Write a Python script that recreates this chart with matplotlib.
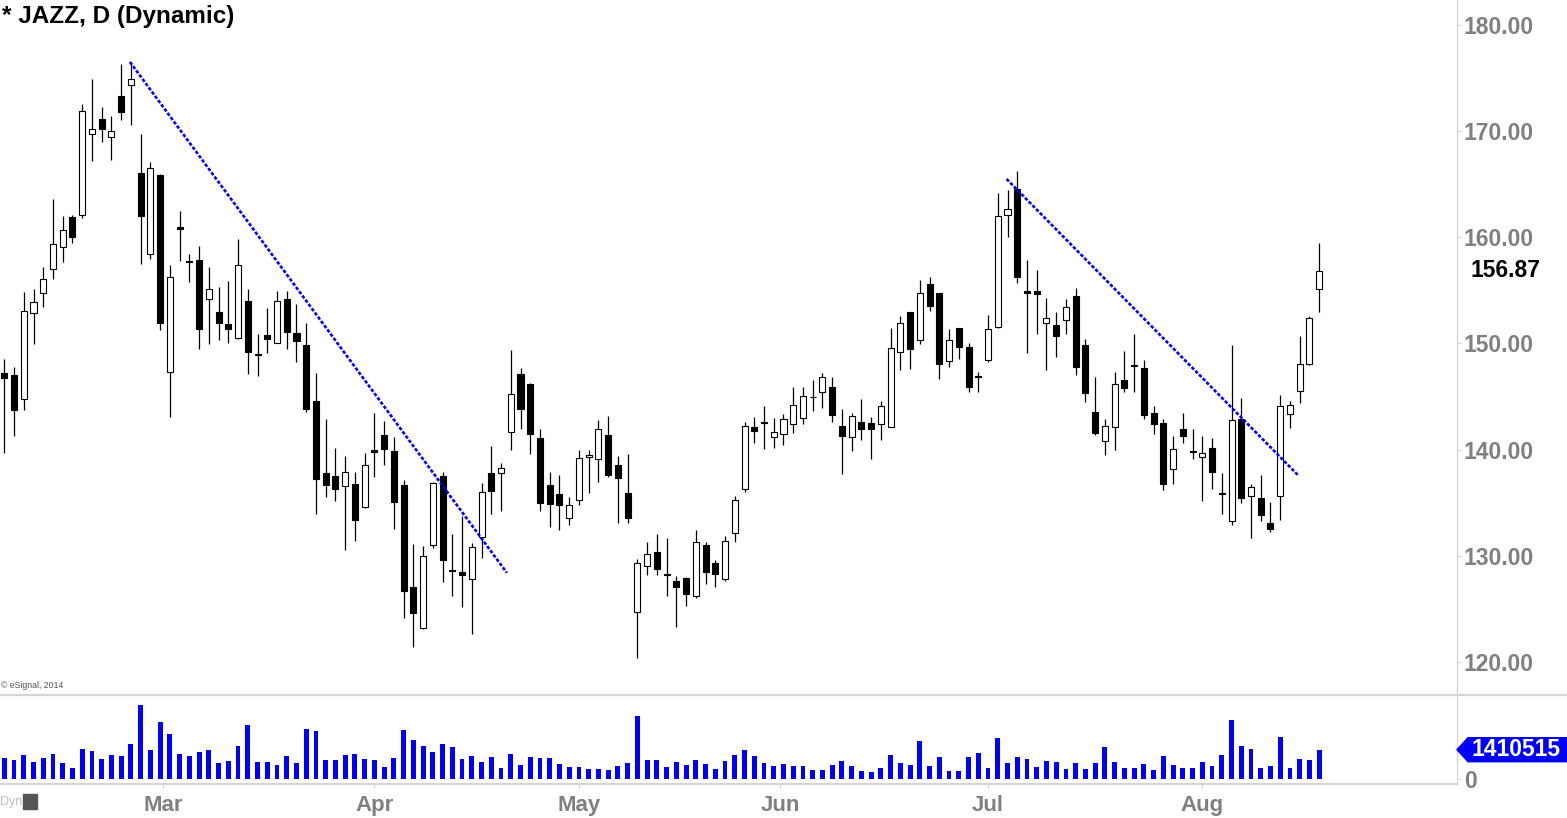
import numpy as np
import pandas as pd
import matplotlib
matplotlib.use("Agg")
import matplotlib.pyplot as plt
from matplotlib import transforms
from matplotlib.patches import Polygon, Rectangle

plt.rcParams['font.family'] = ['Liberation Sans', 'DejaVu Sans']

# Trading days (JAZZ, daily) 2014-02-05 .. 2014-08-19
holidays = ['2014-02-17', '2014-04-18', '2014-05-26', '2014-07-04']
dates = pd.bdate_range('2014-02-05', '2014-08-19', freq='C', holidays=holidays)

opens = [147.23, 147.04, 144.76, 152.85, 154.74, 157.00, 159.07, 161.89, 162.08, 169.71,
         171.12, 169.43, 173.29, 174.32, 166.04, 158.41, 165.85, 147.30, 160.95, 157.75,
         157.87, 154.17, 152.95, 151.82, 150.50, 154.00, 149.05, 150.78, 150.08, 154.17,
         150.97, 149.84, 144.57, 137.79, 137.50, 136.53, 136.75, 134.59, 140.00, 141.37,
         139.86, 136.66, 127.05, 123.19, 131.00, 137.50, 128.65, 128.47, 127.80, 131.76,
         137.79, 137.79, 141.65, 147.14, 146.20, 141.10, 136.69, 135.84, 133.55, 135.24,
         139.29, 139.10, 141.39, 138.57, 135.90, 124.70, 129.03, 130.35, 128.30, 127.62,
         127.90, 126.17, 131.04, 129.31, 127.77, 132.14, 136.28, 142.12, 142.60, 141.18,
         141.46, 142.40, 142.97, 145.00, 145.41, 145.89, 142.21, 141.18, 142.59, 142.50,
         142.40, 142.18, 149.18, 152.95, 150.31, 155.58, 154.74, 148.33, 151.44, 149.65,
         146.95, 148.43, 151.54, 162.08, 164.53, 154.90, 154.93, 151.91, 151.75, 152.19,
         154.48, 149.87, 143.56, 140.80, 142.12, 146.54, 147.95, 147.67, 143.44, 142.50,
         138.16, 141.93, 139.90, 139.29, 140.14, 135.90, 133.27, 142.90, 135.68, 135.46,
         133.08, 135.62, 143.34, 145.51, 148.05, 155.11]
highs = [148.55, 147.80, 154.83, 155.14, 157.18, 163.60, 162.00, 162.10, 172.60, 174.90,
         172.25, 171.43, 176.33, 176.40, 169.74, 167.10, 165.97, 157.40, 162.49, 158.44,
         159.19, 157.18, 155.30, 155.90, 159.82, 155.11, 150.90, 153.32, 154.93, 154.93,
         153.73, 151.91, 147.20, 142.87, 140.14, 139.39, 137.88, 139.70, 143.47, 142.71,
         141.18, 137.16, 131.13, 130.91, 136.94, 137.88, 132.09, 133.77, 131.22, 136.85,
         140.36, 138.79, 149.40, 147.70, 146.32, 141.96, 137.90, 137.63, 135.56, 139.98,
         139.98, 142.80, 143.18, 139.42, 139.60, 129.69, 131.32, 132.05, 131.70, 128.12,
         128.00, 132.45, 131.29, 129.62, 131.88, 135.65, 142.59, 143.09, 144.12, 142.96,
         143.37, 145.91, 145.91, 146.57, 147.20, 146.83, 143.84, 143.44, 144.78, 143.09,
         144.60, 151.44, 152.60, 153.00, 155.99, 156.27, 154.80, 151.37, 151.50, 150.06,
         147.33, 152.69, 164.18, 164.46, 166.25, 157.87, 156.93, 154.29, 152.95, 154.20,
         155.24, 150.43, 146.85, 142.90, 147.30, 149.30, 150.90, 148.45, 144.12, 142.90,
         141.30, 143.47, 141.96, 141.30, 141.08, 137.79, 149.87, 144.85, 136.78, 137.63,
         135.06, 145.16, 144.60, 150.71, 152.60, 159.44]
lows = [139.70, 141.30, 143.75, 149.96, 153.47, 156.10, 157.71, 159.44, 161.86, 167.20,
        169.00, 167.30, 171.05, 170.60, 157.52, 157.97, 151.28, 143.12, 157.80, 155.83,
        149.52, 149.96, 150.34, 150.08, 150.40, 147.14, 146.98, 149.14, 150.03, 149.52,
        148.30, 143.59, 133.96, 135.58, 135.20, 130.56, 131.44, 134.52, 137.47, 138.60,
        132.51, 124.13, 121.40, 123.10, 130.78, 127.49, 126.17, 125.22, 122.65, 129.84,
        133.98, 134.24, 139.98, 141.96, 139.60, 134.24, 132.67, 132.45, 132.92, 134.80,
        135.93, 137.00, 137.47, 133.05, 133.05, 120.37, 128.21, 128.21, 126.20, 123.34,
        125.32, 125.98, 127.39, 127.11, 127.67, 131.34, 136.00, 140.58, 140.10, 140.20,
        140.48, 141.61, 142.46, 143.68, 143.96, 142.65, 137.66, 139.91, 140.92, 139.13,
        140.92, 142.12, 147.51, 147.64, 149.99, 153.10, 146.70, 147.82, 148.58, 145.47,
        145.47, 148.30, 151.50, 160.07, 155.74, 149.14, 150.93, 147.54, 148.77, 150.88,
        147.07, 144.53, 141.39, 139.45, 140.00, 145.47, 145.47, 142.93, 141.52, 136.24,
        136.80, 140.58, 139.16, 135.20, 136.34, 133.98, 132.95, 134.96, 131.67, 133.32,
        132.20, 133.42, 142.08, 144.44, 148.00, 153.00]
closes = [146.76, 143.75, 153.07, 153.89, 156.05, 159.35, 160.67, 160.07, 171.87, 170.18,
          170.24, 170.00, 171.78, 174.89, 162.04, 166.50, 151.91, 156.24, 160.75, 157.65,
          151.40, 155.11, 151.91, 151.40, 157.37, 149.24, 148.95, 150.46, 154.00, 151.12,
          150.27, 143.87, 137.28, 136.71, 136.34, 137.88, 133.42, 138.54, 139.75, 140.10,
          135.11, 126.73, 124.57, 129.97, 136.85, 129.56, 128.55, 128.24, 130.82, 136.00,
          136.15, 138.26, 145.23, 143.87, 141.52, 134.93, 134.87, 134.74, 134.80, 139.20,
          139.51, 141.93, 137.63, 137.37, 133.60, 129.31, 130.16, 128.80, 128.20, 127.11,
          126.45, 131.29, 128.43, 128.33, 131.38, 135.24, 142.21, 141.80, 142.50, 141.70,
          142.87, 144.19, 145.04, 144.95, 146.83, 143.31, 141.33, 143.15, 141.99, 141.90,
          144.10, 149.56, 151.91, 149.52, 154.74, 153.51, 148.11, 150.31, 149.71, 145.94,
          146.85, 151.35, 161.99, 162.70, 156.30, 154.80, 154.70, 152.38, 150.74, 153.42,
          147.82, 145.38, 141.61, 142.21, 146.17, 145.85, 147.85, 143.31, 142.46, 136.81,
          140.05, 141.33, 139.80, 139.67, 137.85, 135.80, 142.78, 135.40, 136.47, 133.80,
          132.51, 144.10, 144.19, 148.05, 152.38, 156.87]
volumes = [1021, 924, 1167, 827, 1021, 1216, 778, 535, 1459, 1362,
           973, 1167, 1119, 1702, 3599, 1411, 2772, 2189, 1216, 1119,
           1313, 1411, 778, 876, 1605, 2627, 827, 827, 681, 1119,
           778, 2432, 2335, 924, 924, 1167, 1216, 973, 924, 584,
           1021, 2383, 1897, 1605, 1313, 1702, 1556, 973, 1119, 827,
           1070, 535, 1216, 681, 1070, 1021, 1021, 730, 584, 584,
           486, 486, 438, 632, 778, 3064, 924, 924, 584, 827,
           681, 924, 730, 486, 876, 1167, 1411, 1119, 778, 632,
           730, 632, 632, 438, 438, 681, 876, 632, 389, 340,
           535, 1167, 778, 681, 1848, 632, 1070, 389, 389, 1070,
           1265, 535, 1994, 778, 1070, 973, 584, 876, 827, 486,
           778, 486, 778, 1556, 827, 535, 535, 730, 438, 1119,
           681, 535, 535, 827, 632, 1167, 2870, 1605, 1459, 535,
           632, 2043, 535, 973, 924, 1410.515]
volumes = [v * 1000 for v in volumes]

# trend lines: (bar index, price) end points
trend1_x = [12.9, 51.6]
trend1_y = [176.52, 128.40]
trend2_x = [102.9, 132.9]
trend2_y = [165.50, 137.53]

price_ticks = [120, 130, 140, 150, 160, 170, 180]

W, H = 1567, 818
fig = plt.figure(figsize=(W / 100, H / 100), dpi=100)
ax = fig.add_axes([0, 1 - 695 / H, 1457 / W, 695 / H])
axv = fig.add_axes([0, 1 - 784 / H, 1457 / W, 89 / H])

idx = np.arange(len(opens))
o = np.array(opens)
c = np.array(closes)
up = c >= o

# candles
ax.vlines(idx, lows, highs, color='black', lw=0.9, zorder=2)
ax.bar(idx, np.abs(c - o), bottom=np.minimum(o, c), width=0.62,
       color=np.where(up, 'white', 'black'), edgecolor='black', linewidth=0.8, zorder=3)

ax.plot(trend1_x, trend1_y, color='#0000ff', lw=1.9, ls=(0, (1.3, 0.7)), zorder=4)
ax.plot(trend2_x, trend2_y, color='#0000ff', lw=1.9, ls=(0, (1.3, 0.7)), zorder=4)

axv.bar(idx, volumes, width=0.5, color='#0000ff')

grey = '#d4d4d4'
lab = '#808080'
for a in (ax, axv):
    a.set_xlim(-0.44, 149.15)
    for s in ('left', 'top', 'bottom'):
        a.spines[s].set_visible(False)
    a.spines['right'].set_color(grey)
    a.spines['right'].set_linewidth(0.9)
    a.yaxis.tick_right()
    a.tick_params(axis='y', colors=grey, length=3, width=0.8, pad=2,
                  labelcolor=lab, labelsize=16.5)

ax.set_ylim(116.89, 182.355)
ax.set_yticks(price_ticks)
ax.set_yticklabels([f'{t:.2f}' for t in price_ticks], fontweight='bold')
ax.set_xticks([])

axv.set_ylim(-258e3, 4071e3)
axv.set_yticks([0])
axv.set_yticklabels(['0'], fontweight='bold')
axv.spines['bottom'].set_visible(True)
axv.spines['bottom'].set_color(grey)
axv.spines['bottom'].set_linewidth(1.5)

# month ticks at calendar position of month starts
month_starts = pd.date_range('2014-03-01', '2014-08-01', freq='MS')
pos = np.interp([d.toordinal() for d in month_starts],
                [d.toordinal() for d in dates], idx)
axv.set_xticks(pos)
axv.set_xticklabels([d.strftime('%b') for d in month_starts], fontweight='bold')
axv.tick_params(axis='x', colors=grey, length=3, width=0.8, pad=5,
                labelcolor=lab, labelsize=16)

# panel divider
fig.add_artist(plt.Line2D([0, 1], [1 - 695 / H] * 2, color=grey, lw=1.6,
                          transform=fig.transFigure))

# title and notes
fig.text(2 / W, 1 - 16.5 / H, '* JAZZ, D (Dynamic)', fontsize=17.5, fontweight='bold',
         va='center', ha='left', color='black')
fig.text(1 / W, 1 - 686 / H, '\u00a9 eSignal, 2014', fontsize=6.3, color='#555555',
         va='center', ha='left')
fig.text(0 / W, 1 - 802 / H, 'Dyn', fontsize=9, color='#c0c0c0', va='center', ha='left')
fig.add_artist(Rectangle((23 / W, 1 - 809 / H), 14 / W, 15 / H, color='#555555',
                         transform=fig.transFigure))

# last price label
tr = transforms.blended_transform_factory(fig.transFigure, ax.transData)
ax.text(1471 / W, closes[-1], f'{closes[-1]:.2f}', transform=tr, fontsize=16.5,
        fontweight='bold', color='black', va='center', ha='left', clip_on=False)

# last volume flag
yv = fig.transFigure.inverted().transform(axv.transData.transform((0, volumes[-1])))[1]
hh = 12 / H
x0, x1, tip = 1468 / W, 1.0, 1457 / W
fig.add_artist(Polygon([[tip, yv], [x0, yv + hh], [x1, yv + hh], [x1, yv - hh], [x0, yv - hh]],
                       closed=True, color='#0000ff', transform=fig.transFigure))
fig.text(1516 / W, yv, f'{int(round(volumes[-1]))}', fontsize=16.5, fontweight='bold',
         color='white', va='center', ha='center')

fig.savefig('out.png', dpi=100)
